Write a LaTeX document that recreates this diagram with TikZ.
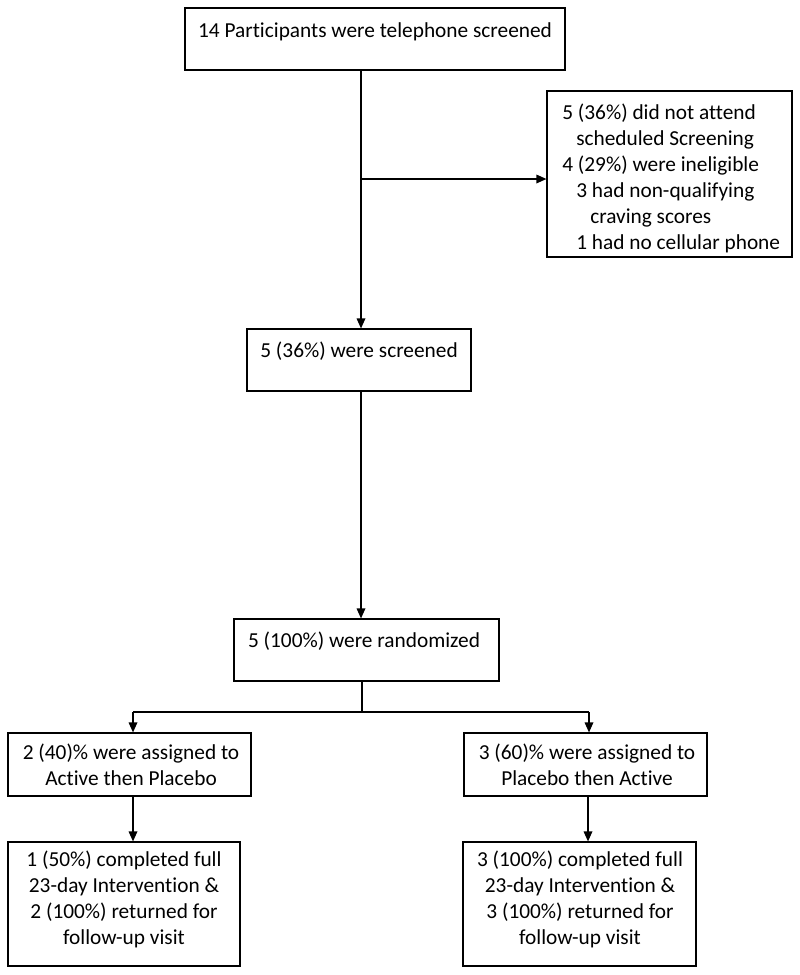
\documentclass[tikz,border=0pt]{standalone}
\usepackage{fontspec}
\setmainfont{Carlito}[Ligatures=CommonOff]
\usetikzlibrary{fit,arrows.meta}
\tikzset{
  box/.style={draw, line width=0.9pt, inner sep=0pt, fit={#1}},
  txt/.style={inner sep=0pt, font=\fontsize{16pt}{19.4pt}\selectfont},
  conn/.style={line width=0.9pt},
  arr/.style={conn, -{Triangle[length=7.5pt,width=6.5pt]}}
}
\begin{document}
\begin{tikzpicture}[x=0.75pt,y=-0.75pt]
\useasboundingbox (0,0) rectangle (800,975);
% boxes
\node[box={(185,8) (565,70)}] (top) {};
\node[box={(547,91) (792,257)}] (excl) {};
\node[box={(247,329) (471,391)}] (scr) {};
\node[box={(234,619) (499,681)}] (rand) {};
\node[box={(8,733) (251,796)}] (armA) {};
\node[box={(464,733) (707,796)}] (armB) {};
\node[box={(8,842) (240,966)}] (compA) {};
\node[box={(463,842) (696,966)}] (compB) {};
% texts (base anchor = baseline of the last line)
\node[txt, anchor=base] (ttop) at (375,37) {14 Participants were telephone screened};
\node[txt, anchor=base west, align=left] (texcl) at (562,249) {5 (36\%) did not attend\\
\hspace*{10.5pt}scheduled Screening\\
4 (29\%) were ineligible\\
\hspace*{10.5pt}3 had non-qualifying\\
\hspace*{21pt}craving scores\\
\hspace*{10.5pt}1 had no cellular phone};
\node[txt, anchor=base] (tscr) at (359,357) {5 (36\%) were screened};
\node[txt, anchor=base] (trand) at (364,647) {5 (100\%) were randomized};
\node[txt, anchor=base, align=center] (tarmA) at (131,785) {2 (40)\% were assigned to\\ Active then Placebo};
\node[txt, anchor=base, align=center] (tarmB) at (587,785) {3 (60)\% were assigned to\\ Placebo then Active};
\node[txt, anchor=base, align=center] (tcompA) at (124,944) {1 (50\%) completed full\\23-day Intervention \&\\2 (100\%) returned for\\follow-up visit};
\node[txt, anchor=base, align=center] (tcompB) at (580,944) {3 (100\%) completed full\\23-day Intervention \&\\3 (100\%) returned for\\follow-up visit};
% connector coordinates
\coordinate (trunk) at (361,179);
\coordinate (trunk2) at (362,712);
\coordinate (brA) at (133,712);
\coordinate (brB) at (589,712);
\coordinate (brB2) at (588,800);
% connectors
\draw[arr] (top.south -| trunk) -- (scr.north -| trunk);
\draw[arr] (trunk) -- (trunk -| excl.west);
\draw[arr] (scr.south -| trunk) -- (rand.north -| trunk);
\draw[conn] (rand.south -| trunk2) -- (trunk2);
\draw[conn] (brA) -- (brB);
\draw[arr] (brA) -- (armA.north -| brA);
\draw[arr] (brB) -- (armB.north -| brB);
\draw[arr] (armA.south -| brA) -- (compA.north -| brA);
\draw[arr] (armB.south -| brB2) -- (compB.north -| brB2);
\end{tikzpicture}
\end{document}
